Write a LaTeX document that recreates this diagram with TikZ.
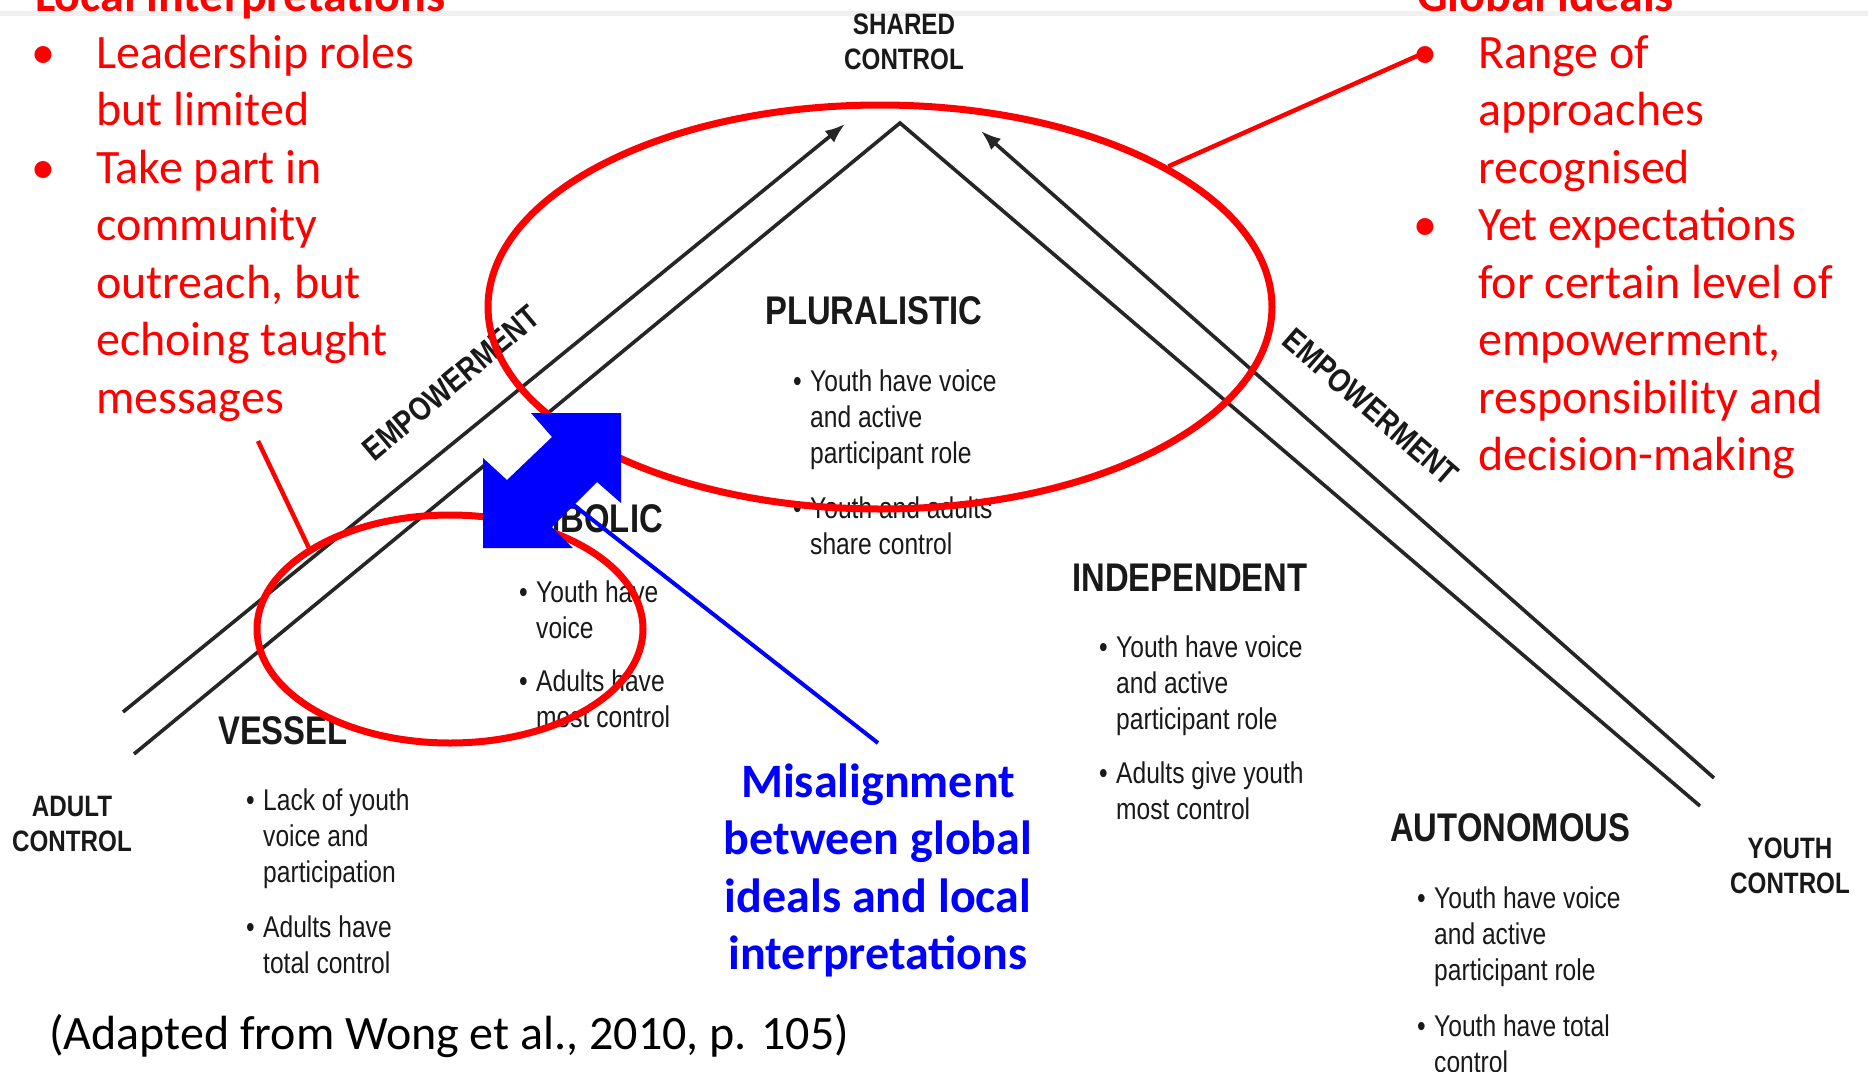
\documentclass[tikz,border=0pt]{standalone}
\usepackage{fontspec}
\setmainfont{Carlito}
\newfontfamily\diag[FakeStretch=0.82]{Liberation Sans}
\usetikzlibrary{arrows.meta,shapes.geometric}
\definecolor{pptred}{RGB}{255,0,0}
\definecolor{pptblue}{RGB}{0,0,255}
\newcommand{\blt}{\makebox[17pt][l]{•}}
\newcommand{\rblt}{\makebox[64.5pt][l]{•}}
\begin{document}
\begin{tikzpicture}[x=1pt,y=-1pt,
  blk/.style={text=black!90, inner sep=0pt},
  head/.style={blk, font=\diag\bfseries\fontsize{40}{42}\selectfont, anchor=base west},
  ctrl/.style={blk, font=\diag\bfseries\fontsize{29.5}{35}\selectfont, anchor=base},
  btxt/.style={blk, font=\diag\fontsize{30}{36}\selectfont, anchor=base west},
  emp/.style={blk, font=\diag\bfseries\fontsize{33}{36}\selectfont},
  redtxt/.style={text=pptred, inner sep=0pt, font=\fontsize{48}{57.5}\selectfont, anchor=base west},
  redhead/.style={redtxt, font=\bfseries\fontsize{48}{57.5}\selectfont},
  bluetxt/.style={text=pptblue, inner sep=0pt, font=\bfseries\fontsize{48}{57.5}\selectfont, anchor=base},
  roof/.style={draw=black!85, line width=3.6pt},
  emparrow/.style={draw=black!85, line width=3.6pt, -{Latex[length=20pt,width=15pt]}},
  redring/.style={ellipse, draw=pptred, line width=7pt, inner sep=0pt},
  redline/.style={draw=pptred, line width=4.5pt},
  blueline/.style={draw=pptblue, line width=4pt}
]
\fill[white] (0,0) rectangle (1868,1071);
\useasboundingbox (0,0) rectangle (1868,1071);
\draw[gray!12, line width=5pt] (0,13) -- (1868,13);

% roof and empowerment arrows
\coordinate (roofL) at (134,754);
\coordinate (apex) at (900,123);
\coordinate (roofR) at (1700,806);
\coordinate (arrLlow) at (123,712);
\coordinate (arrLtip) at (845,124);
\coordinate (arrRlow) at (1714,778);
\coordinate (arrRtip) at (981,131);
\draw[roof] (roofL) -- (apex) -- (roofR);
\draw[emparrow] (arrLlow) -- (arrLtip);
\draw[emparrow] (arrRlow) -- (arrRtip);

\node[emp, rotate=40] (empL) at (451,383) {EMPOWERMENT};
\node[emp, rotate=-41] (empR) at (1371,407) {EMPOWERMENT};

% control labels
\node[ctrl] (shared) at (904,34) {\begin{tabular}[t]{@{}c@{}}SHARED\\CONTROL\end{tabular}};
\node[ctrl] (adult) at (72,816) {\begin{tabular}[t]{@{}c@{}}ADULT\\CONTROL\end{tabular}};
\node[ctrl] (youth) at (1790,858) {\begin{tabular}[t]{@{}c@{}}YOUTH\\CONTROL\end{tabular}};

% categories
\node[head] (plur) at (765,324) {PLURALISTIC};
\node[btxt] (plurb) at (793,391) {\begin{tabular}[t]{@{}l@{}l@{}}\blt & Youth have voice\\ & and active\\ & participant role\\[19pt] \blt & Youth and adults\\ & share control\end{tabular}};

\node[head, anchor=base east] (symb) at (663,532) {SYMBOLIC};
\node[btxt] (symbb) at (519,602) {\begin{tabular}[t]{@{}l@{}l@{}}\blt & Youth have\\ & voice\\[17pt] \blt & Adults have\\ & most control\end{tabular}};

\node[head] (vessel) at (218,744) {VESSEL};
\node[btxt] (vesselb) at (246,810) {\begin{tabular}[t]{@{}l@{}l@{}}\blt & Lack of youth\\ & voice and\\ & participation\\[19pt] \blt & Adults have\\ & total control\end{tabular}};

\node[head] (indep) at (1072,591) {INDEPENDENT};
\node[btxt] (indepb) at (1099,657) {\begin{tabular}[t]{@{}l@{}l@{}}\blt & Youth have voice\\ & and active\\ & participant role\\[18pt] \blt & Adults give youth\\ & most control\end{tabular}};

\node[head] (auto) at (1390,841) {AUTONOMOUS};
\node[btxt] (autob) at (1417,908) {\begin{tabular}[t]{@{}l@{}l@{}}\blt & Youth have voice\\ & and active\\ & participant role\\[20pt] \blt & Youth have total\\ & control\end{tabular}};

% red annotations
\node[redhead] (lochead) at (35,11) {Local interpretations};
\node[redtxt] (loctxt) at (31.5,68) {\begin{tabular}[t]{@{}l@{}l@{}}\rblt & Leadership roles\\ & but limited\\ \rblt & Take part in\\ & community\\ & outreach, but\\ & echoing taught\\ & messages\end{tabular}};

\node[redhead] (globhead) at (1417,11) {Global ideals};
\node[redtxt] (globtxt) at (1413.5,68) {\begin{tabular}[t]{@{}l@{}l@{}}\rblt & Range of\\ & approaches\\ & recognised\\ \rblt & Yet expectations\\ & for certain level of\\ & empowerment,\\ & responsibility and\\ & decision-making\end{tabular}};

\node[redring, minimum width=784pt, minimum height=404pt] (bigell) at (880,307) {};
\node[redring, minimum width=386pt, minimum height=228pt] (smallell) at (450,629) {};

\coordinate (redA) at (258,441);
\coordinate (redB) at (1426,52);
\draw[redline] (smallell.150) -- (redA);
\draw[redline] (bigell.26.7) -- (redB);

% blue annotation
\node[bluetxt] (misal) at (878,797) {\begin{tabular}[t]{@{}c@{}}Misalignment\\between global\\ideals and local\\interpretations\end{tabular}};
\coordinate (blueEnd) at (878,743);
\coordinate (arrowHit) at (566,499);
\draw[blueline] (blueEnd) -- (arrowHit);

% double arrow
\fill[white] (531,413) -- (552,437) -- (507,480) -- (483,458) -- cycle;
\fill[pptblue] (621,413) -- (621,503) -- (597,482) -- (552,527) -- (573,548) -- (483,548) -- (483,458) -- (507,480) -- (552,437) -- (531,413) -- cycle;

% source
\node[redtxt, text=black] (source) at (49,1049) {(Adapted from Wong et al., 2010, p. 105)};
\end{tikzpicture}
\end{document}
